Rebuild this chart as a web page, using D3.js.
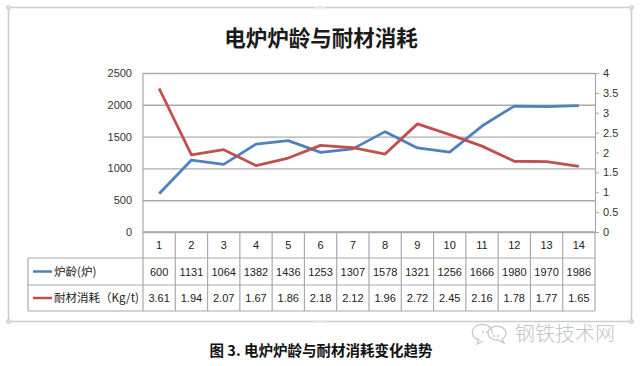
<!DOCTYPE html>
<html>
<head>
<meta charset="utf-8">
<script src="https://cdn.jsdelivr.net/npm/d3@7"></script>
<style>
  body { margin: 0; background: #fff; }
  svg { display: block; }
</style>
</head>
<body>
<div class="canvas"></div>
<script>
// data
const categories = ['1','2','3','4','5','6','7','8','9','10','11','12','13','14'];
const furnaceAge = [600, 1131, 1064, 1382, 1436, 1253, 1307, 1578, 1321, 1256, 1666, 1980, 1970, 1986];
const refractory = [3.61, 1.94, 2.07, 1.67, 1.86, 2.18, 2.12, 1.96, 2.72, 2.45, 2.16, 1.78, 1.77, 1.65];
const refractoryText = ['3.61','1.94','2.07','1.67','1.86','2.18','2.12','1.96','2.72','2.45','2.16','1.78','1.77','1.65'];
const leftTicks = [0, 500, 1000, 1500, 2000, 2500];
const rightTicks = [0, 0.5, 1, 1.5, 2, 2.5, 3, 3.5, 4];
const rightTickText = ['0','0.5','1','1.5','2','2.5','3','3.5','4'];
const seriesNames = ['炉龄(炉)', '耐材消耗（Kg/t)'];
const title = '电炉炉龄与耐材消耗';
const caption = '图 3. 电炉炉龄与耐材消耗变化趋势';
const watermark = '钢铁技术网';

const width = 640, height = 366;
const blue = '#4f81bd', red = '#c0504d';
const numFont = '"Liberation Sans", Arial, sans-serif';
const cjkFont = '"Noto Sans CJK SC", "Noto Sans", sans-serif';

const svg = d3.select('.canvas').append('svg')
    .attr('width', width)
    .attr('height', height);

// outer chart frame
svg.append('rect')
    .attr('x', 8.5).attr('y', 7.5)
    .attr('width', 623).attr('height', 314)
    .attr('fill', '#fff')
    .attr('stroke', '#c5cfcb')
    .attr('stroke-width', 1.5);
// little frame handles
const handles = [[8.5,7.5],[631.5,7.5],[8.5,321.5],[631.5,321.5]];
svg.selectAll('.handle').data(handles).enter().append('circle')
    .attr('class', 'handle')
    .attr('cx', d => d[0]).attr('cy', d => d[1]).attr('r', 2)
    .attr('fill', '#dfe6e3').attr('stroke', '#b8c4c0').attr('stroke-width', 0.8);
svg.selectAll('.mid').data([[320, 7.5],[320, 321.5]]).enter().append('rect')
    .attr('class', 'mid')
    .attr('x', d => d[0] - 5).attr('y', d => d[1] - 1)
    .attr('width', 10).attr('height', 2)
    .attr('fill', '#e3e8e6');

svg.append('text')
    .attr('x', 321).attr('y', 46)
    .attr('text-anchor', 'middle')
    .attr('font-family', cjkFont)
    .attr('font-weight', 700)
    .attr('font-size', 21.5)
    .attr('fill', '#1a1a1a')
    .text(title);

// scales
const plotL = 143, plotR = 595, plotT = 73, plotB = 232;
const x = d3.scaleBand().domain(categories).range([plotL, plotR]);
const yL = d3.scaleLinear().domain([0, 2500]).range([plotB, plotT]);
const yR = d3.scaleLinear().domain([0, 4]).range([plotB, plotT]);

// gridlines
svg.append('g')
    .attr('transform', `translate(${plotL},0)`)
    .call(d3.axisRight(yL).tickValues(leftTicks).tickSize(plotR - plotL).tickFormat(''))
    .call(g => g.select('.domain').remove())
    .call(g => g.selectAll('line').attr('stroke', '#ababab').attr('stroke-width', 1.4));

// left axis labels
svg.append('g')
    .attr('transform', `translate(${plotL},0)`)
    .call(d3.axisLeft(yL).tickValues(leftTicks).tickSize(0).tickPadding(11).tickFormat(d3.format('d')))
    .call(g => g.select('.domain').remove())
    .call(g => g.selectAll('text').attr('font-family', numFont).attr('font-size', 11).attr('fill', '#333'));

svg.append('line')
    .attr('x1', plotL).attr('x2', plotL).attr('y1', plotT).attr('y2', plotB)
    .attr('stroke', '#a8a8a8').attr('stroke-width', 1.2);

// right axis
svg.append('g')
    .attr('transform', `translate(${plotR},0)`)
    .call(d3.axisRight(yR).tickValues(rightTicks).tickSize(4).tickPadding(4)
        .tickFormat((d, i) => rightTickText[i]))
    .call(g => g.select('.domain').attr('stroke', '#a8a8a8').attr('stroke-width', 1.2))
    .call(g => g.selectAll('line').attr('stroke', '#a8a8a8'))
    .call(g => g.selectAll('text').attr('font-family', numFont).attr('font-size', 11).attr('fill', '#333'));

// data table
const rowY = [plotB, 258, 285, 311];
const tableL = 28;
const tg = svg.append('g');
const gridColor = '#a9a9a9';

// horizontal lines
tg.selectAll('.hrow').data(rowY.slice(1)).enter().append('line')
    .attr('x1', tableL).attr('x2', plotR)
    .attr('y1', d => d).attr('y2', d => d)
    .attr('stroke', gridColor).attr('stroke-width', 1.2);
tg.append('line')
    .attr('x1', plotL).attr('x2', plotR).attr('y1', plotB).attr('y2', plotB)
    .attr('stroke', gridColor).attr('stroke-width', 1.4);
// vertical lines
const colEdges = categories.map(c => x(c)).concat([plotR]);
tg.selectAll('.vcol').data(colEdges).enter().append('line')
    .attr('x1', d => d).attr('x2', d => d)
    .attr('y1', plotB).attr('y2', rowY[3])
    .attr('stroke', gridColor).attr('stroke-width', 1.2);
tg.append('line')
    .attr('x1', tableL).attr('x2', tableL).attr('y1', rowY[1]).attr('y2', rowY[3])
    .attr('stroke', gridColor).attr('stroke-width', 1.2);

const cellText = (vals, y0, y1) => {
    tg.append('g').selectAll('text').data(vals).enter().append('text')
        .attr('x', (d, i) => x(categories[i]) + x.bandwidth() / 2)
        .attr('y', (y0 + y1) / 2 + 4)
        .attr('text-anchor', 'middle')
        .attr('font-family', numFont)
        .attr('font-size', 11)
        .attr('fill', '#222')
        .text(d => d);
};
cellText(categories, rowY[0], rowY[1]);
cellText(furnaceAge, rowY[1], rowY[2]);
cellText(refractoryText, rowY[2], rowY[3]);

// legend keys inside the table
[blue, red].forEach((c, i) => {
    const cy = (rowY[i + 1] + rowY[i + 2]) / 2;
    tg.append('line')
        .attr('x1', 33).attr('x2', 52).attr('y1', cy).attr('y2', cy)
        .attr('stroke', c).attr('stroke-width', 2.5);
    tg.append('text')
        .attr('x', 54).attr('y', cy + 4)
        .attr('font-family', cjkFont)
        .attr('font-size', 11.5)
        .attr('fill', '#222')
        .text(seriesNames[i]);
});

// series lines
const lineL = d3.line().x((d, i) => x(categories[i]) + x.bandwidth() / 2).y(d => yL(d));
const lineR = d3.line().x((d, i) => x(categories[i]) + x.bandwidth() / 2).y(d => yR(d));

svg.append('path')
    .datum(furnaceAge)
    .attr('d', lineL)
    .attr('fill', 'none')
    .attr('stroke', blue)
    .attr('stroke-width', 2.8)
    .attr('stroke-linejoin', 'round');

svg.append('path')
    .datum(refractory)
    .attr('d', lineR)
    .attr('fill', 'none')
    .attr('stroke', red)
    .attr('stroke-width', 2.8)
    .attr('stroke-linejoin', 'round');

// caption
svg.append('text')
    .attr('x', 321).attr('y', 356)
    .attr('text-anchor', 'middle')
    .attr('font-family', cjkFont)
    .attr('font-weight', 700)
    .attr('font-size', 14.5)
    .attr('fill', '#111')
    .text(caption);

// watermark with chat icon
const wm = svg.append('g').attr('fill', 'none').attr('stroke', '#c8c8c8').attr('stroke-width', 1.3);
wm.append('path').attr('d', 'M492,334 a10,8 0 1,0 -13,6 l-2,4 l6,-3');
wm.append('path').attr('d', 'M488,333 a9,7 0 1,1 14,6 l2,4 l-6,-3 a9,7 0 0,1 -10,-7');
svg.selectAll('.dot').data([[483,332],[487,332],[494,336],[498,336]]).enter().append('circle')
    .attr('cx', d => d[0]).attr('cy', d => d[1]).attr('r', 1)
    .attr('fill', '#c8c8c8');
svg.append('text')
    .attr('x', 515).attr('y', 341)
    .attr('font-family', cjkFont)
    .attr('font-weight', 300)
    .attr('font-size', 20)
    .attr('fill', '#c4c4c4')
    .text(watermark);
</script>
</body>
</html>
